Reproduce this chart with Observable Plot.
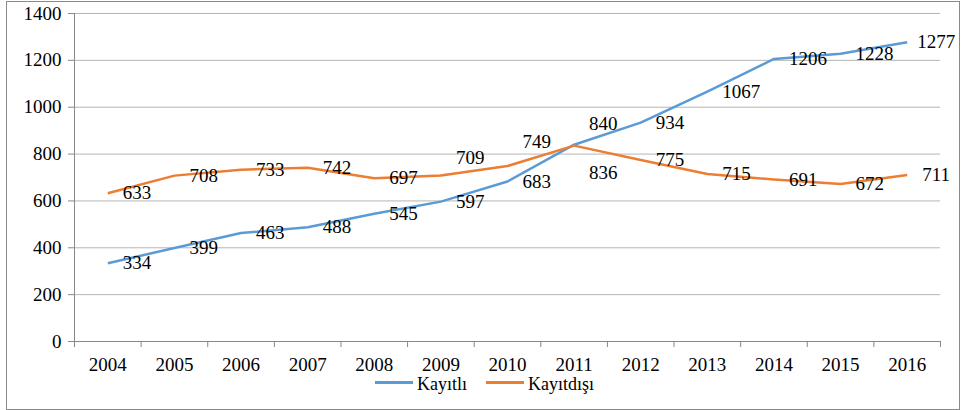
<!DOCTYPE html>
<html>
<head>
<meta charset="utf-8">
<script src="https://cdn.jsdelivr.net/npm/d3@7"></script>
<script src="https://cdn.jsdelivr.net/npm/@observablehq/plot@0.6"></script>
<style>
  html, body { margin: 0; padding: 0; background: #fff; }
  #frame { position: absolute; left: 6px; top: 1px; width: 954px; height: 409px; box-sizing: border-box; border: 1px solid #8a8a8a; background: #fff; }
  #chart { position: absolute; left: 0; top: 0; }
  #legend { position: absolute; left: 368px; top: 372px; display: flex; align-items: center; font-family: "Liberation Serif", "Times New Roman", Tinos, "DejaVu Serif", serif; font-size: 18px; line-height: 20px; color: #000; white-space: nowrap; }
  #legend .sw { display: inline-block; width: 38px; height: 3px; margin-right: 4px; margin-top: -3px; }
</style>
</head>
<body>
<div id="frame">
  <div id="chart"></div>
  <div id="legend"></div>
</div>
<script>
const years = [2004, 2005, 2006, 2007, 2008, 2009, 2010, 2011, 2012, 2013, 2014, 2015, 2016];
const kayitli = [334, 399, 463, 488, 545, 597, 683, 840, 934, 1067, 1206, 1228, 1277];
const kayitdisi = [633, 708, 733, 742, 697, 709, 749, 836, 775, 715, 691, 672, 711];
const seriesNames = ["Kayıtlı", "Kayıtdışı"];
const seriesColors = ["#5B9BD5", "#ED7D31"];
const yTicks = [0, 200, 400, 600, 800, 1000, 1200, 1400];

const rows = [];
years.forEach((yr, i) => {
  rows.push({series: seriesNames[0], year: yr, value: kayitli[i]});
  rows.push({series: seriesNames[1], year: yr, value: kayitdisi[i]});
});

// label placement tweaks (pixels), as in the original chart
const shift = {
  "Kayıtdışı-2009": [15, -17],
  "Kayıtdışı-2010": [15, -24],
  "Kayıtdışı-2011": [15, 27],
  "Kayıtlı-2011": [15, -21],
  "Kayıtlı-2016": [10, 0]
};
const boundaries = years.map(y => y - 0.5).concat([years[years.length - 1] + 0.5]);
const serif = "'Liberation Serif', 'Times New Roman', Tinos, 'DejaVu Serif', serif";

const labelMarks = rows.map(r => {
  const s = shift[r.series + "-" + r.year] || [15, 0];
  return Plot.text([r], {x: "year", y: "value", text: d => String(d.value), textAnchor: "start", lineAnchor: "middle", dx: s[0], dy: s[1], fill: "#000", fontSize: 19, fontFamily: serif});
});

const chart = Plot.plot({
  width: 952,
  height: 406,
  marginLeft: 67,
  marginRight: 19,
  marginTop: 11,
  marginBottom: 67,
  style: {fontFamily: serif, fontSize: "19px", color: "#000", background: "transparent"},
  x: {domain: [years[0] - 0.5, years[years.length - 1] + 0.5], axis: null},
  y: {domain: [0, 1400], axis: null},
  color: {domain: seriesNames, range: seriesColors},
  marks: [
    Plot.ruleY(yTicks.filter(v => v > 0), {stroke: "#b5b5b5", strokeWidth: 1}),
    Plot.ruleX([boundaries[0]], {stroke: "#888", strokeWidth: 1}),
    Plot.ruleY([0], {stroke: "#888", strokeWidth: 1}),
    Plot.axisY({ticks: yTicks, tickSize: 6, tickPadding: 7, tickFormat: d => String(d), stroke: "#888", fill: "#000", label: null, fontSize: 19, fontFamily: serif}),
    Plot.axisX({ticks: boundaries, tickSize: 6, tickFormat: () => "", stroke: "#888", label: null}),
    Plot.axisX({ticks: years, tickSize: 0, tickPadding: 16, tickFormat: d => String(d), fill: "#000", label: null, fontSize: 19, fontFamily: serif}),
    Plot.line(rows, {x: "year", y: "value", z: "series", stroke: "series", strokeWidth: 2.5, strokeLinejoin: "round", strokeLinecap: "butt"}),
    ...labelMarks
  ]
});
document.getElementById("chart").appendChild(chart);

const legend = document.getElementById("legend");
seriesNames.forEach((name, i) => {
  const item = document.createElement("span");
  item.style.display = "inline-flex";
  item.style.alignItems = "center";
  if (i > 0) item.style.marginLeft = "19px";
  const sw = document.createElement("span");
  sw.className = "sw";
  sw.style.background = seriesColors[i];
  item.appendChild(sw);
  item.appendChild(document.createTextNode(name));
  legend.appendChild(item);
});
</script>
</body>
</html>
